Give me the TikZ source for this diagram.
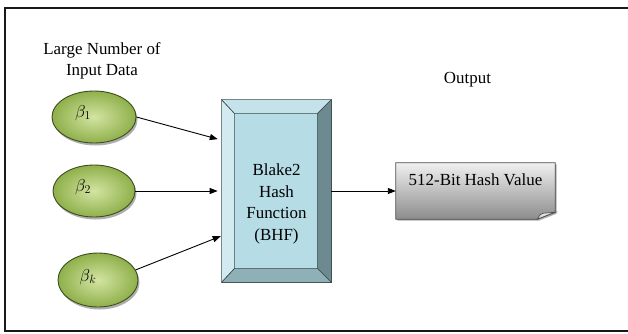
\documentclass[tikz,border=0pt]{standalone}
\usepackage{fontspec}
\setmainfont{Liberation Serif}
\usetikzlibrary{shapes.geometric,shadows,arrows.meta,calc}

\definecolor{ovalin}{HTML}{D3E4A2}
\definecolor{ovalout}{HTML}{8FB04B}
\definecolor{ovalline}{HTML}{3E4D1E}
\definecolor{bevinner}{HTML}{B6DCE6}
\definecolor{bevleft}{HTML}{D3EAF1}
\definecolor{bevtop}{HTML}{C5E2EA}
\definecolor{bevright}{HTML}{6D8A90}
\definecolor{bevbottom}{HTML}{90B0B8}
\definecolor{bevline}{HTML}{3A4A4E}

\begin{document}
\begin{tikzpicture}[x=1bp,y=1bp,
  txt/.style={font=\rmfamily\fontsize{17}{21.5}\selectfont, align=center, inner sep=0},
  betalab/.style={font=\fontsize{18}{20}\selectfont, inner sep=0},
  oval/.style={ellipse, draw=ovalline, line width=0.9bp, inner color=ovalin,
    outer color=ovalout, inner sep=0,
    drop shadow={shadow xshift=1.5bp, shadow yshift=-2.5bp, fill=black!70, opacity=0.45}},
  bevelbox/.style={rectangle, draw=bevline, line width=0.7bp, fill=bevinner,
    minimum width=109bp, minimum height=182bp, inner sep=0},
  bevel/.style={draw=bevline, line width=0.6bp},
  arr/.style={-{Triangle[length=8bp,width=6bp]}, line width=0.9bp},
  frameline/.style={line width=2.4bp, black!90},
]
\useasboundingbox (0,0) rectangle (628,-333);

% outer frame (open on the right)
\draw[frameline] (628,-8) -- (5,-8) -- (5,-331) -- (628,-331);

% headings
\node[txt] (intitle) at (102,-61) {Large Number of\\Input Data};
\node[txt] (outtitle) at (467.5,-80) {Output};

% input ovals
\node[oval, minimum width=84bp, minimum height=52bp] (e1) at (94,-117) {};
\node[oval, minimum width=82bp, minimum height=52bp] (e2) at (94,-191) {};
\node[oval, minimum width=80bp, minimum height=54bp] (ek) at (98,-280) {};
\node[betalab] (b1) at ($(e1)+(-11,4)$) {$\beta_{1}$};
\node[betalab] (b2) at ($(e2)+(-11,4)$) {$\beta_{2}$};
\node[betalab] (bk) at ($(ek)+(-10,3)$) {$\beta_{k}$};

% bevelled hash-function block
\node[bevelbox] (bhf) at (276.5,-191) {};
\coordinate (i1) at ($(bhf.north west)+(13,-14)$);
\coordinate (i2) at ($(bhf.north east)+(-14,-14)$);
\coordinate (i3) at ($(bhf.south east)+(-14,14)$);
\coordinate (i4) at ($(bhf.south west)+(13,14)$);
\filldraw[bevel, fill=bevleft] (bhf.north west) -- (i1) -- (i4) -- (bhf.south west) -- cycle;
\filldraw[bevel, fill=bevtop] (bhf.north west) -- (bhf.north east) -- (i2) -- (i1) -- cycle;
\filldraw[bevel, fill=bevright] (bhf.north east) -- (bhf.south east) -- (i3) -- (i2) -- cycle;
\filldraw[bevel, fill=bevbottom] (bhf.south west) -- (bhf.south east) -- (i3) -- (i4) -- cycle;
\node[txt] (bhflabel) at ($(bhf.center)+(0,-13)$) {Blake2\\Hash\\Function\\(BHF)};

% output document shape
\node[rectangle, minimum width=159bp, minimum height=56bp, inner sep=0] (hash) at (475.5,-191) {};
\path[draw=black!70, line width=0.8bp, top color=black!6, bottom color=black!45,
  drop shadow={shadow xshift=1.5bp, shadow yshift=-1.5bp, fill=black!70, opacity=0.45}]
  (hash.north west) -- (hash.north east) -- ([yshift=7]hash.south east)
  -- ([xshift=-18]hash.south east) -- (hash.south west) -- cycle;
\filldraw[fill=black!12, draw=black!70, line width=0.7bp]
  ([xshift=-18]hash.south east) .. controls ([xshift=-15,yshift=5]hash.south east) ..
  ([xshift=-12,yshift=6]hash.south east) -- ([yshift=7]hash.south east) -- cycle;
\node[txt] (hashtext) at ($(hash.center)+(0,11)$) {512-Bit Hash Value};

% connectors
\draw[arr, shorten >=4bp] (e1.east) -- ([yshift=51]bhf.west);
\draw[arr, shorten >=4bp] (e2.east) -- (bhf.west);
\draw[arr, shorten >=1bp] (ek.15) -- ([yshift=-45]bhf.west);
\draw[arr] (bhf.east) -- (hash.west);
\end{tikzpicture}
\end{document}
